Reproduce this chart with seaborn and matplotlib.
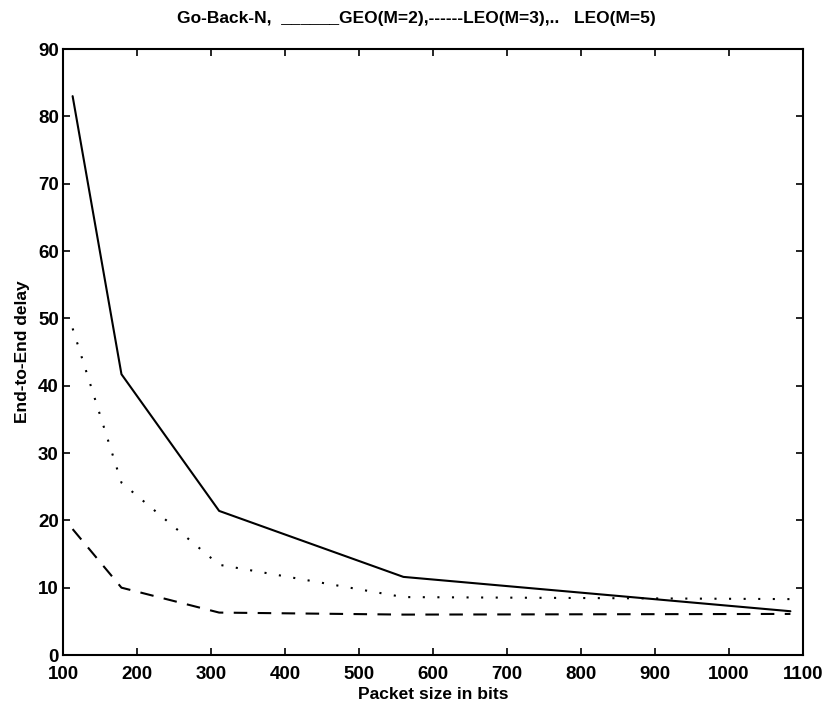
import numpy as np
import pandas as pd
import matplotlib
matplotlib.use("Agg")
import matplotlib.pyplot as plt
import seaborn as sns

# ---- data ----
packet_size = [113, 179, 311, 560, 1083]
geo_m2 = [83.0, 41.7, 21.4, 11.6, 6.5]
leo_m3 = [48.5, 25.6, 13.4, 8.6, 8.3]
leo_m5 = [18.7, 10.0, 6.3, 6.0, 6.1]
series_names = ["GEO(M=2)", "LEO(M=3)", "LEO(M=5)"]

x_ticks = [100, 200, 300, 400, 500, 600, 700, 800, 900, 1000, 1100]
y_ticks = [0, 10, 20, 30, 40, 50, 60, 70, 80, 90]

title_text = "Go-Back-N,  ______GEO(M=2),------LEO(M=3),..   LEO(M=5)"
x_label = "Packet size in bits"
y_label = "End-to-End delay"

df = pd.DataFrame({
    "size": packet_size * 3,
    "delay": geo_m2 + leo_m3 + leo_m5,
    "series": [s for s in series_names for _ in packet_size],
})

sns.set_theme(style="white")
plt.rcParams["font.family"] = ["Liberation Sans", "DejaVu Sans"]
plt.rcParams["text.color"] = "black"
plt.rcParams["axes.labelcolor"] = "black"
plt.rcParams["xtick.color"] = "black"
plt.rcParams["ytick.color"] = "black"

fig = plt.figure(figsize=(8.32, 7.10), dpi=100)
ax = fig.add_axes([63 / 832, 1 - 655 / 710, (803 - 63) / 832, (655 - 49) / 710])

sns.lineplot(
    data=df, x="size", y="delay", style="series", color="black",
    dashes={"GEO(M=2)": "", "LEO(M=3)": (1, 6), "LEO(M=5)": (6.5, 5)},
    linewidth=1.5, legend=False, ax=ax, sort=False,
)

ax.set_xlim(100, 1100)
ax.set_ylim(0, 90)
ax.set_xticks(x_ticks)
ax.set_yticks(y_ticks)
ax.set_xticklabels([str(t) for t in x_ticks], fontsize=13.5, fontweight="bold")
ax.set_yticklabels([str(t) for t in y_ticks], fontsize=13.5, fontweight="bold")
ax.tick_params(direction="in", length=5, width=1.2, top=True, right=True,
               bottom=True, left=True, colors="black")
ax.tick_params(axis="x", pad=8)
ax.tick_params(axis="y", pad=3)
for sp in ax.spines.values():
    sp.set_color("black")
    sp.set_linewidth(1.5)
ax.set_xlabel(x_label, fontsize=12.5, fontweight="bold", labelpad=3)
ax.set_ylabel(y_label, fontsize=12.5, fontweight="bold", labelpad=6)
fig.text(0.5, 1 - 18 / 710, title_text, ha="center", va="center",
         fontsize=12.5, fontweight="bold")

fig.savefig("out.png", dpi=100, facecolor="white")
